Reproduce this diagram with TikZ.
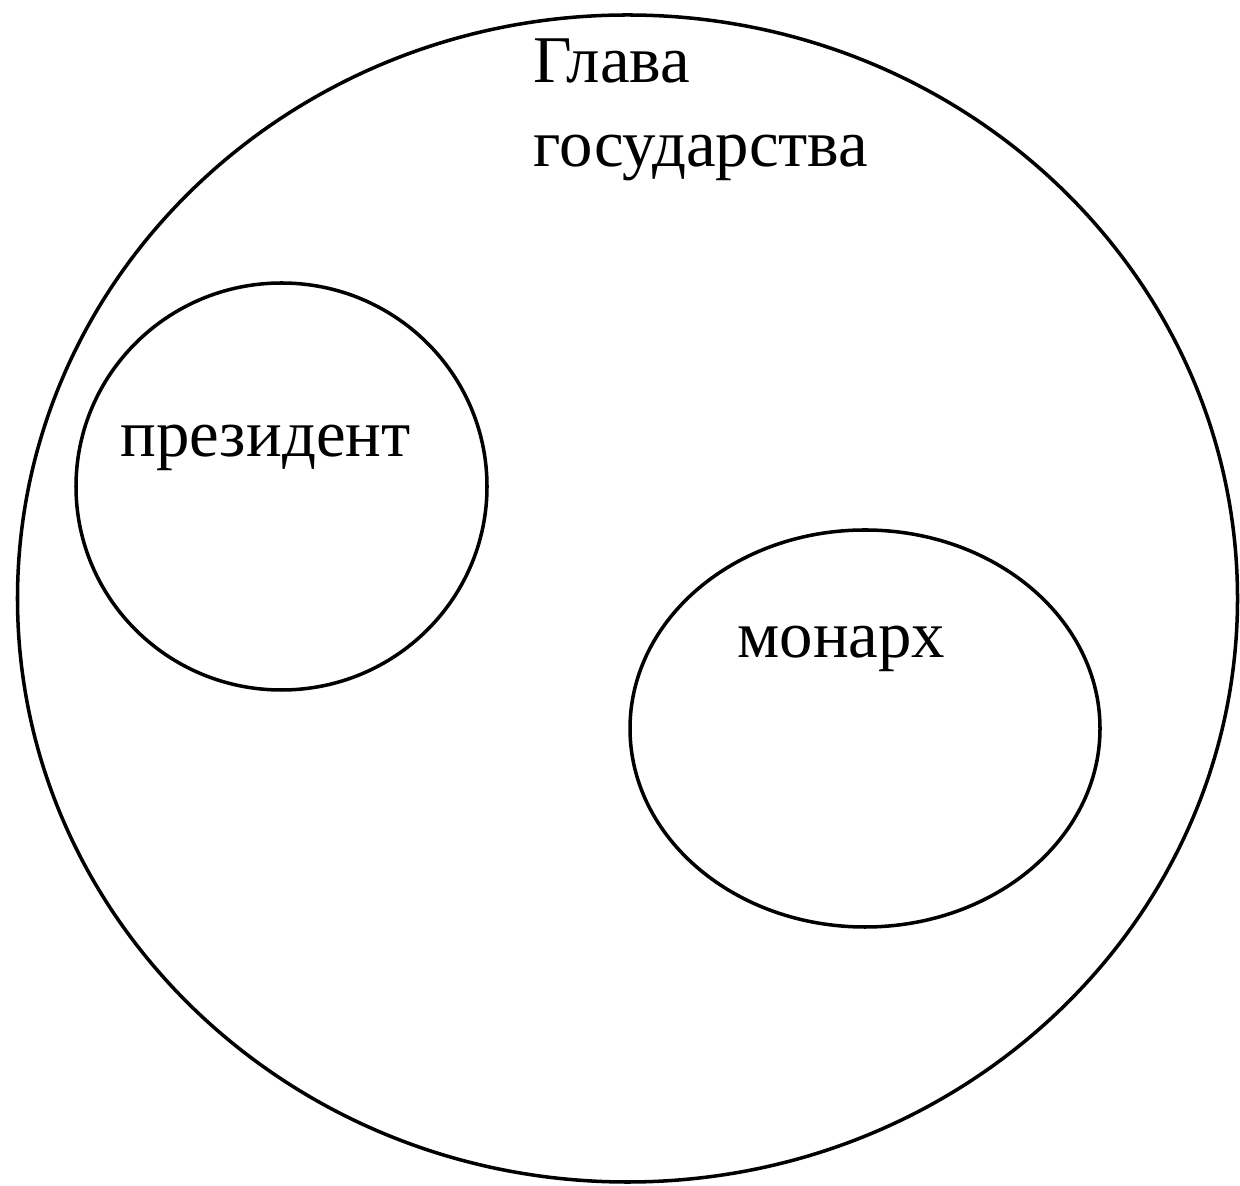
\documentclass[tikz,border=0pt]{standalone}
\usepackage{fontspec}
\setmainfont{Liberation Serif}
\usetikzlibrary{shapes.geometric}

\begin{document}
\begin{tikzpicture}[
   region/.style={ellipse, draw, line width=2pt, inner sep=0pt},
   lbl/.style={font=\fontsize{38}{48}\selectfont, inner sep=0pt, align=left}]
  \useasboundingbox[fill=white] (0,0) rectangle (24.8,23.7);
  \node[region, minimum width=24.4cm, minimum height=23.34cm] (head) at (12.55,11.73) {};
  \node[region, minimum width=8.22cm, minimum height=8.14cm] (pres) at (5.63,13.97) {};
  \node[region, minimum width=9.4cm, minimum height=7.94cm] (mon) at (17.3,9.13) {};
  \node[lbl, anchor=base west] (headlbl) at (10.66,20.36) {Глава\\государства};
  \node[lbl, anchor=base west] (preslbl) at (2.4,14.56) {президент};
  \node[lbl, anchor=base west] (monlbl) at (14.74,10.54) {монарх};
\end{tikzpicture}
\end{document}
